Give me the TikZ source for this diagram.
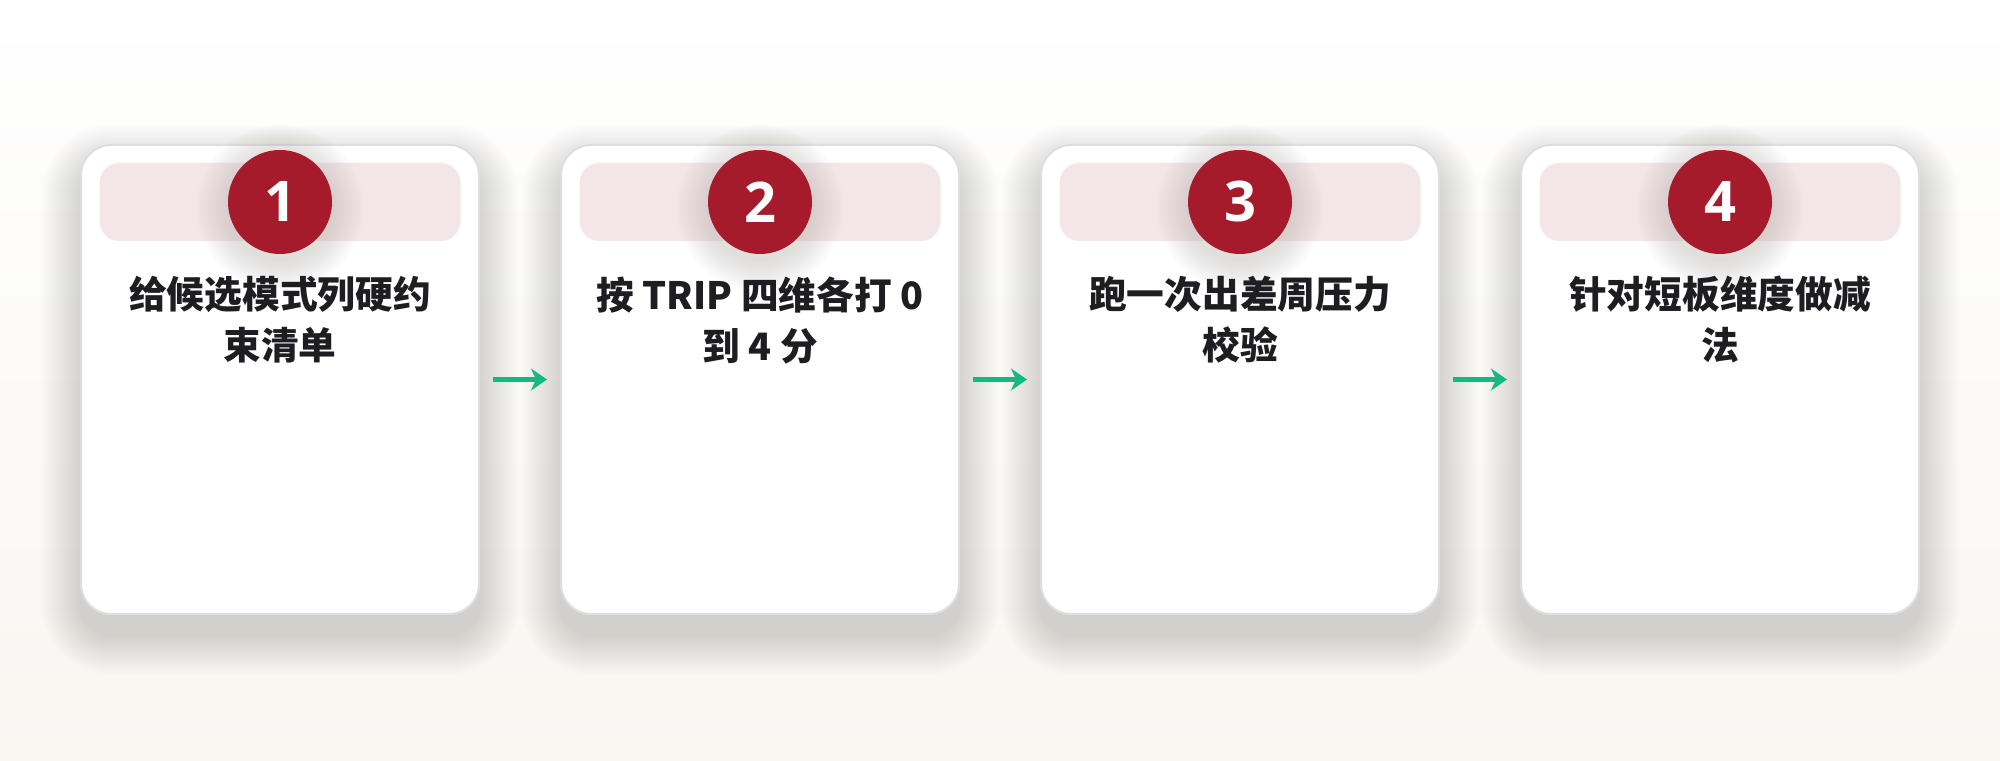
\documentclass[tikz,border=0pt]{standalone}
\usepackage{fontspec}
\usepackage{tikz}
\usetikzlibrary{arrows.meta}
\newfontfamily\cjk{Noto Sans CJK SC}
\newfontfamily\numfont{Open Sans}
\definecolor{badgered}{HTML}{A51B2B}
\definecolor{bandpink}{HTML}{F3E6E9}
\definecolor{cardline}{HTML}{DEDDE3}
\definecolor{inktext}{HTML}{1D1D22}
\definecolor{flowgreen}{HTML}{12B981}
\definecolor{paper}{HTML}{F8F6F1}
\definecolor{shadowgrey}{HTML}{6E6A60}

\tikzset{
  card/.style={draw=cardline, line width=1pt, fill=white, rounded corners=15pt,
    minimum width=199pt, minimum height=234.5pt, inner sep=0pt},
  band/.style={fill=bandpink, rounded corners=10pt, minimum width=180.5pt, minimum height=39pt, inner sep=0pt},
  badge/.style={circle, fill=badgered, minimum size=52pt, inner sep=0pt, text=white,
    font=\numfont\bfseries\fontsize{28}{30}\selectfont},
  steptext/.style={text=inktext, align=center, inner sep=0pt, anchor=north,
    font=\cjk\bfseries\fontsize{18.85}{25.5}\selectfont},
  flow/.style={draw=flowgreen, line width=2.2pt, -{Stealth[length=8pt, width=11pt, inset=2.5pt]}},
  haze/.style={fill=shadowgrey, opacity=#1},
  haze/.default=0.01
}

\begin{document}
\begin{tikzpicture}[x=0.5pt, y=0.5pt]
\shade[top color=white, bottom color=paper] (0,0) rectangle (2000,760);
\useasboundingbox (0,0) rectangle (2000,760);

% soft shadows under the cards
\foreach \x in {280,760,1240,1720}
  \foreach \k in {1,...,20}{
    \pgfmathsetmacro\rad{15+\k}
    \fill[haze, rounded corners=\rad pt] (\x-199-2*\k,126-2*\k) rectangle (\x+199+2*\k,595+2*\k);
  }

% cards
\node[card] (c1) at (280,380.5) {};
\node[card] (c2) at (760,380.5) {};
\node[card] (c3) at (1240,380.5) {};
\node[card] (c4) at (1720,380.5) {};

% header bands
\node[band] (b1) at (280,558) {};
\node[band] (b2) at (760,558) {};
\node[band] (b3) at (1240,558) {};
\node[band] (b4) at (1720,558) {};

% shadows round the numbers
\foreach \x in {280,760,1240,1720}
  \foreach \k in {1,...,12}
    \fill[haze=0.016] (\x,552) circle ({26+\k*1.3pt});

% numbers
\node[badge] (n1) at (b1) {1};
\node[badge] (n2) at (b2) {2};
\node[badge] (n3) at (b3) {3};
\node[badge] (n4) at (b4) {4};

% labels
\node[steptext] (t1) at (280,484) {给候选模式列硬约\\束清单};
\node[steptext] (t2) at (760,484) {按 TRIP 四维各打 0\\到 4 分};
\node[steptext] (t3) at (1240,484) {跑一次出差周压力\\校验};
\node[steptext] (t4) at (1720,484) {针对短板维度做减\\法};

% arrows
\draw[flow] ([xshift=6.5pt]c1.east) -- ([xshift=-6.5pt]c2.west);
\draw[flow] ([xshift=6.5pt]c2.east) -- ([xshift=-6.5pt]c3.west);
\draw[flow] ([xshift=6.5pt]c3.east) -- ([xshift=-6.5pt]c4.west);
\end{tikzpicture}
\end{document}
